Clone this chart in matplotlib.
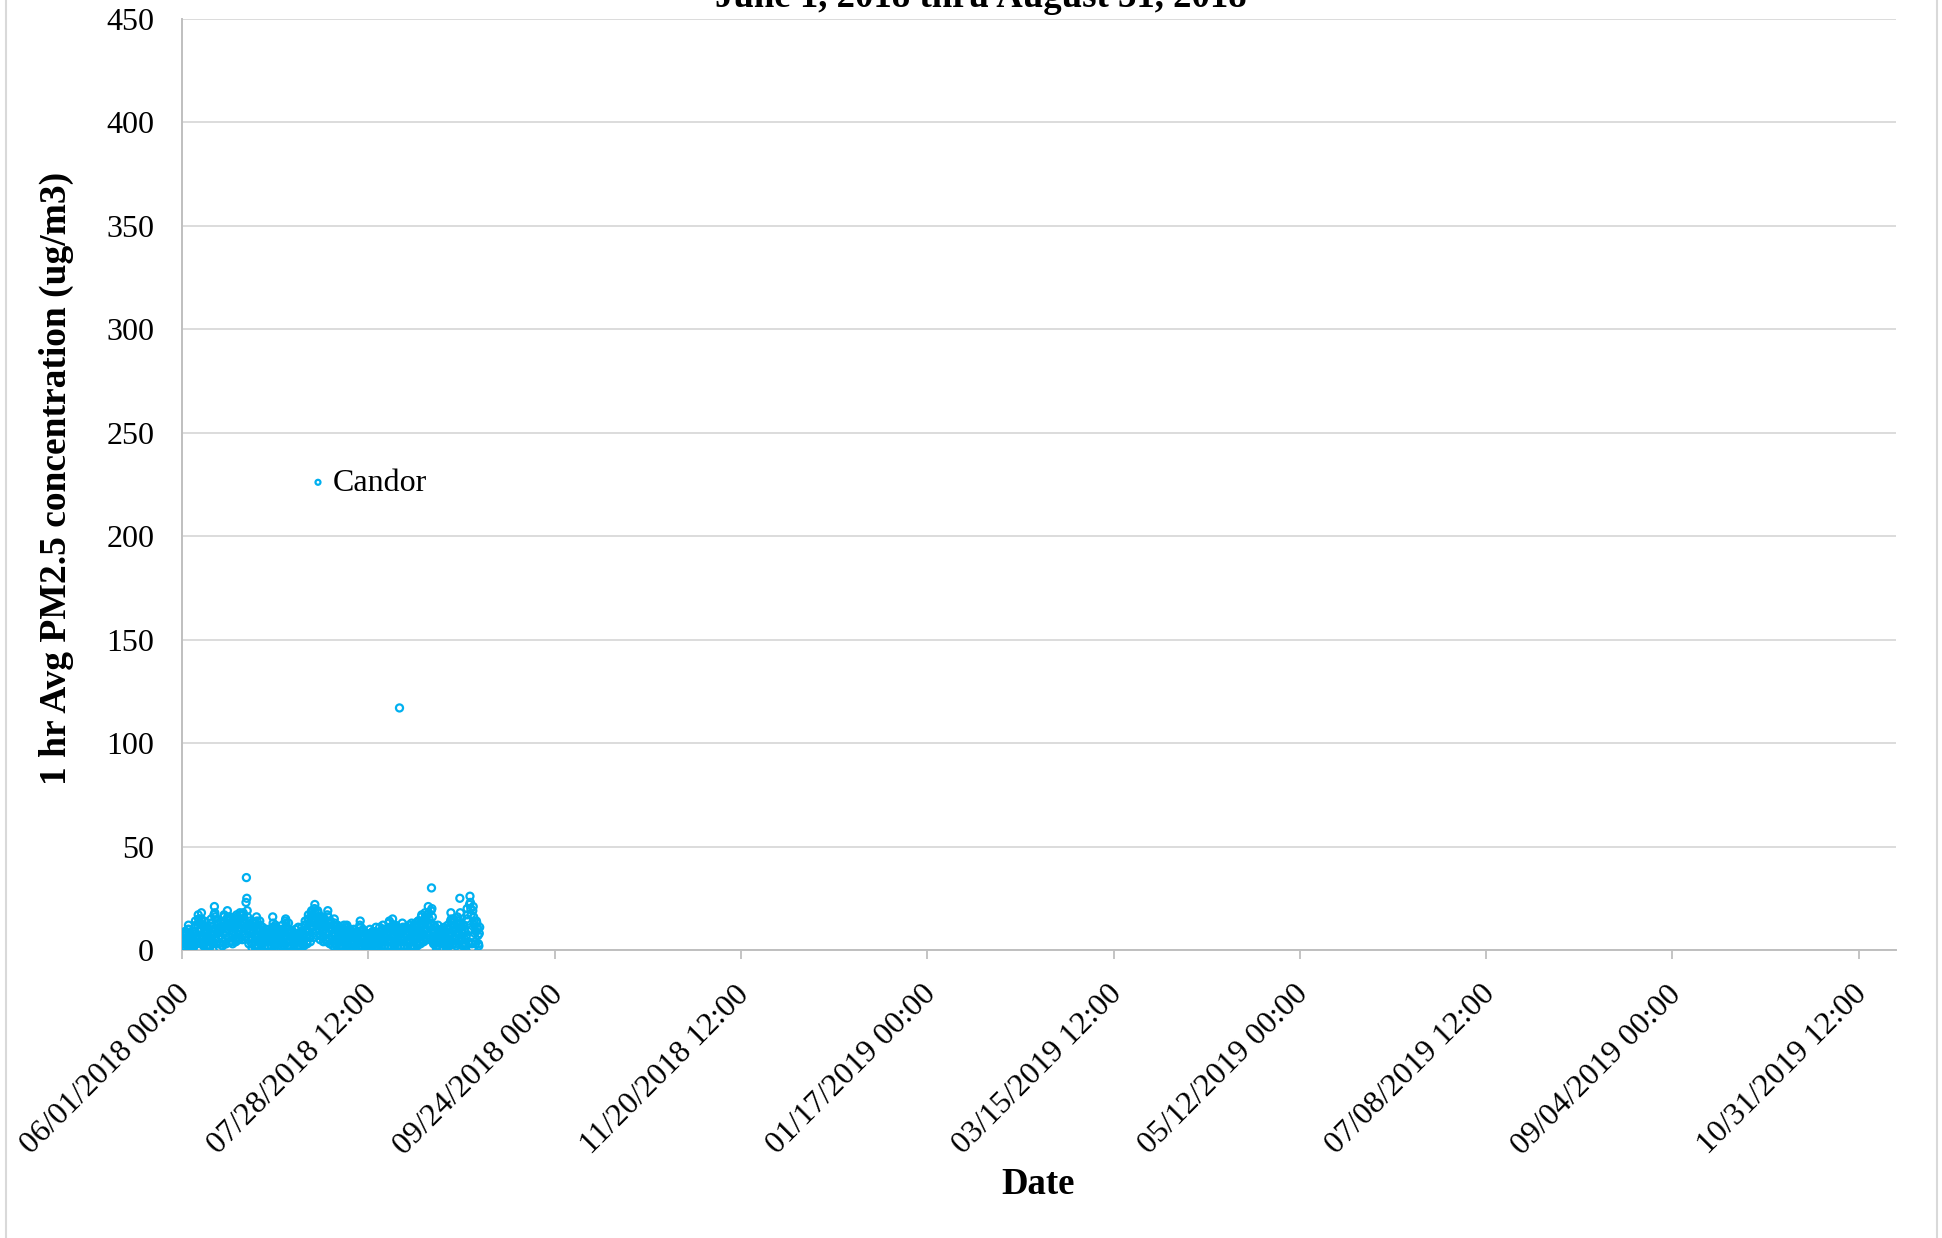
import numpy as np
import pandas as pd
import matplotlib
matplotlib.use('Agg')
import matplotlib.pyplot as plt
import matplotlib.dates as mdates
from matplotlib.lines import Line2D
from matplotlib.transforms import ScaledTranslation

plt.rcParams['font.family'] = ['Liberation Serif', 'DejaVu Serif']

series_name = 'Candor'
title_text = 'June 1, 2018 thru August 31, 2018'
y_label = '1 hr Avg PM2.5 concentration (ug/m3)'
x_label = 'Date'

# readings every 3 hours (00,03,06,09,12,15,18,21), one row of eight per day
june_values = [
    4, 6, 5, 3, 2, 1, 5, 8,
    9, 8, 7, 4, 3, 2, 6, 10,
    12, 10, 8, 5, 2, 1, 4, 7,
    6, 5, 4, 3, 1, 2, 4, 9,
    11, 14, 12, 8, 5, 3, 7, 12,
    17, 15, 13, 9, 6, 4, 10, 15,
    18, 14, 12, 7, 3, 2, 8, 14,
    10, 9, 8, 5, 2, 1, 6, 11,
    9, 7, 6, 4, 1, 2, 5, 13,
    15, 13, 11, 7, 4, 3, 9, 17,
    21, 18, 16, 10, 5, 3, 8, 14,
    12, 10, 9, 6, 3, 1, 7, 11,
    13, 11, 10, 6, 2, 4, 8, 16,
    17, 14, 12, 9, 5, 3, 10, 15,
    19, 16, 14, 10, 6, 4, 11, 16,
    15, 13, 11, 8, 4, 3, 9, 13,
    14, 12, 10, 7, 5, 4, 12, 17,
    16, 15, 13, 9, 6, 5, 11, 18,
    17, 15, 12, 10, 7, 5, 13, 18,
    17, 15, 13, 11, 8, 6, 23, 35,
    25, 19, 16, 12, 5, 3, 9, 14,
    12, 10, 9, 6, 3, 1, 8, 13,
    11, 9, 7, 4, 2, 1, 6, 10,
    16, 14, 12, 7, 1, 2, 5, 10,
    14, 12, 10, 6, 3, 2, 7, 11,
    9, 8, 6, 4, 1, 2, 5, 8,
    10, 8, 7, 5, 2, 1, 6, 9,
    8, 7, 6, 4, 1, 2, 5, 11,
    16, 13, 10, 6, 2, 3, 7, 12,
    11, 9, 8, 5, 3, 1, 6, 10,
]
july_values = [
    9, 8, 7, 4, 1, 2, 5, 8,
    12, 10, 9, 6, 2, 3, 7, 14,
    15, 13, 11, 7, 4, 2, 8, 13,
    10, 9, 8, 5, 2, 1, 6, 9,
    9, 7, 6, 3, 1, 2, 5, 8,
    10, 8, 7, 4, 1, 2, 6, 11,
    8, 7, 6, 4, 2, 1, 5, 9,
    11, 9, 8, 5, 3, 2, 7, 12,
    14, 12, 10, 7, 4, 3, 9, 15,
    17, 15, 13, 9, 6, 4, 11, 18,
    19, 17, 15, 11, 8, 6, 14, 20,
    22, 19, 16, 12, 9, 7, 13, 19,
    18, 16, 14, 10, 7, 5, 11, 16,
    16, 14, 12, 9, 6, 4, 10, 15,
    15, 13, 11, 8, 5, 4, 12, 17,
    19, 16, 13, 9, 5, 3, 10, 14,
    13, 11, 10, 7, 4, 2, 8, 12,
    15, 13, 11, 7, 3, 2, 6, 10,
    12, 10, 9, 5, 2, 1, 6, 11,
    10, 8, 7, 4, 1, 2, 5, 9,
    12, 10, 9, 6, 3, 2, 7, 12,
    11, 9, 8, 5, 2, 1, 6, 10,
    9, 7, 6, 3, 1, 0.5, 4, 8,
    10, 8, 7, 4, 2, 1, 5, 9,
    8, 7, 6, 3, 1, 0.5, 4, 12,
    14, 11, 9, 5, 2, 1, 6, 10,
    9, 7, 6, 3, 0.5, 1, 4, 8,
    8, 6, 5, 2, 1, 0.5, 3, 7,
    10, 8, 7, 4, 1, 2, 5, 9,
    9, 7, 6, 3, 0.5, 1, 4, 11,
    8, 6, 5, 2, 1, 0.5, 3, 7,
]
august_values = [
    11, 9, 7, 4, 1, 2, 5, 10,
    12, 10, 8, 5, 2, 1, 6, 10,
    10, 8, 7, 4, 1, 2, 5, 13,
    14, 11, 9, 5, 2, 1, 6, 11,
    15, 12, 10, 6, 2, 3, 7, 12,
    11, 9, 8, 5, 1, 2, 6, 10,
    9, 117, 8, 6, 2, 1, 5, 10,
    13, 11, 9, 5, 1, 2, 6, 11,
    10, 8, 7, 4, 2, 1, 5, 9,
    12, 10, 8, 5, 1, 2, 6, 13,
    11, 9, 8, 4, 2, 1, 7, 12,
    13, 11, 9, 6, 3, 2, 8, 14,
    14, 12, 10, 7, 4, 3, 9, 16,
    17, 14, 12, 8, 5, 4, 10, 15,
    18, 16, 14, 10, 6, 5, 12, 17,
    21, 18, 15, 11, 7, 5, 13, 19,
    30, 20, 16, 9, 4, 3, 8, 12,
    11, 9, 7, 4, 1, 2, 5, 10,
    12, 10, 8, 4, 0.5, 1, 5, 9,
    10, 8, 6, 3, 1, 0.5, 4, 11,
    9, 8, 6, 3, 1, 2, 5, 10,
    12, 10, 8, 5, 2, 3, 7, 14,
    18, 15, 13, 8, 4, 3, 9, 15,
    14, 12, 10, 6, 3, 2, 8, 13,
    16, 14, 12, 8, 5, 4, 25, 18,
    13, 11, 9, 6, 3, 2, 8, 12,
    12, 10, 9, 5, 2, 3, 7, 15,
    20, 17, 14, 9, 4, 3, 22, 26,
    23, 20, 17, 10, 3, 1, 19, 21,
    16, 14, 12, 8, 4, 3, 9, 14,
    13, 11, 10, 7, 3, 2, 8, 11,
]

y_ticks = [0, 50, 100, 150, 200, 250, 300, 350, 400, 450]
x_tick_labels = ['06/01/2018 00:00', '07/28/2018 12:00', '09/24/2018 00:00',
                 '11/20/2018 12:00', '01/17/2019 00:00', '03/15/2019 12:00',
                 '05/12/2019 00:00', '07/08/2019 12:00', '09/04/2019 00:00',
                 '10/31/2019 12:00']
x_min_date = '2018-06-01 00:00'
x_max_date = '2019-11-12 00:00'

values = np.array(june_values + july_values + august_values, dtype=float)
times = pd.date_range('2018-06-01 00:00', periods=len(values), freq='3h')
x = mdates.date2num(times.to_pydatetime())

W, H = 1942, 1238
fig = plt.figure(figsize=(W / 100, H / 100), dpi=100)
L, R, T, B = 182, 1896, 19, 950
ax = fig.add_axes([L / W, 1 - B / H, (R - L) / W, (B - T) / H])

ax.scatter(x, values, s=26, facecolors='none', edgecolors='#00B0F0',
           linewidths=1.6, label=series_name, zorder=3)

ax.set_ylim(0, 450)
ax.set_yticks(y_ticks)
tick_pos = mdates.date2num(pd.to_datetime(x_tick_labels, format='%m/%d/%Y %H:%M').to_pydatetime())
ax.set_xticks(tick_pos)
ax.set_xticklabels(x_tick_labels)
ax.set_xlim(mdates.date2num(pd.Timestamp(x_min_date).to_pydatetime()),
            mdates.date2num(pd.Timestamp(x_max_date).to_pydatetime()))

ax.yaxis.grid(True, color='#D9D9D9', linewidth=1.3)
ax.set_axisbelow(True)
for s in ['top', 'right']:
    ax.spines[s].set_visible(False)
for s in ['left', 'bottom']:
    ax.spines[s].set_color('#BFBFBF')
    ax.spines[s].set_linewidth(1.4)

ax.tick_params(axis='y', length=0, pad=20, labelsize=23)
ax.tick_params(axis='x', length=6.5, width=1.3, color='#BFBFBF', pad=15, labelsize=23)
shift = ScaledTranslation(-0.06, 0, fig.dpi_scale_trans)
for lab in ax.get_xticklabels():
    lab.set_rotation(45)
    lab.set_ha('right')
    lab.set_va('top')
    lab.set_rotation_mode('anchor')
    lab.set_transform(lab.get_transform() + shift)

leg = ax.legend(loc='center left', bbox_to_anchor=((310 - L) / (R - L), (B - 483) / (B - T)),
                frameon=False, fontsize=23, markerscale=0.7, handlelength=0.5,
                handletextpad=0.2, borderpad=0, borderaxespad=0)

fig.text(981 / W, 1 - 7 / H, title_text, ha='center', va='baseline',
         fontsize=26.5, fontweight='bold')
fig.text(56 / W, 1 - 478 / H, y_label, rotation=90, ha='center', va='center',
         fontsize=27, fontweight='bold')
fig.text(1038 / W, 1 - 1185 / H, x_label, ha='center', va='center',
         fontsize=26.5, fontweight='bold')

for xx in [6, 1937]:
    fig.add_artist(Line2D([xx / W, xx / W], [0, 1], transform=fig.transFigure,
                          color='#D9D9D9', linewidth=1.5))

fig.savefig('out.png', dpi=100)
